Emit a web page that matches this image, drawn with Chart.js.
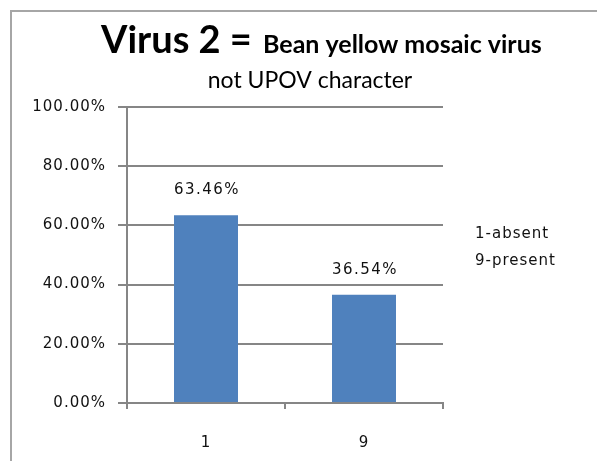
<!DOCTYPE html>
<html>
<head>
<meta charset="utf-8">
<script src="https://cdn.jsdelivr.net/npm/chart.js@4"></script>
<style>
    html, body { margin: 0; padding: 0; background: #fff; }
    #wrap { position: relative; width: 597px; height: 461px; overflow: hidden; }
    #frame { position: absolute; left: 10px; top: 10px; width: 600px; height: 470px; border: 2px solid #a6a6a6; box-sizing: border-box; }
    #chart { position: absolute; left: 0; top: 0; }
</style>
</head>
<body>
<div id="wrap">
    <div id="frame"></div>
    <canvas id="chart" width="597" height="461"></canvas>
</div>
<script>
// Dati del grafico
const categories = ['1', '9'];
const percentValues = [63.46, 36.54];
const yTicks = [0, 20, 40, 60, 80, 100];
const titleMain = 'Virus 2 = ';
const titleSub = 'Bean yellow mosaic virus';
const subtitleText = 'not UPOV character';
const legendLines = ['1-absent', '9-present'];

const tickFont = { family: 'DejaVu Sans', size: 15 };

// spaziatura delle lettere come nel grafico originale
const spacingPlugin = {
    id: 'spacing',
    beforeDraw(chart) {
        chart.ctx.letterSpacing = '1px';
    }
};

// Titolo con due dimensioni di carattere
const titlePlugin = {
    id: 'mixedTitle',
    afterDraw(chart) {
        const ctx = chart.ctx;
        ctx.save();
        ctx.letterSpacing = '0px';
        ctx.fillStyle = '#000';
        ctx.textBaseline = 'alphabetic';
        ctx.textAlign = 'left';
        ctx.font = 'bold 38px Lato';
        ctx.fillText(titleMain, 101, 53);
        ctx.font = 'bold 25px Lato';
        ctx.fillText(titleSub, 263, 53);
        ctx.font = '23px Lato';
        ctx.textAlign = 'center';
        ctx.fillText(subtitleText, 310, 88);
        // legenda testuale
        ctx.letterSpacing = '1px';
        ctx.font = '15px DejaVu Sans';
        ctx.textAlign = 'left';
        ctx.textBaseline = 'middle';
        ctx.fillStyle = '#111';
        legendLines.forEach((t, i) => ctx.fillText(t, 475, 234 + i * 27));
        ctx.restore();
    }
};

// Etichette dei valori sopra le barre
const valueLabelPlugin = {
    id: 'valueLabels',
    afterDatasetsDraw(chart) {
        const ctx = chart.ctx;
        const meta = chart.getDatasetMeta(0);
        ctx.save();
        ctx.letterSpacing = '1.5px';
        ctx.font = '15px DejaVu Sans';
        ctx.fillStyle = '#111';
        ctx.textAlign = 'center';
        ctx.textBaseline = 'middle';
        meta.data.forEach((bar, i) => {
            ctx.fillText(percentValues[i].toFixed(2) + '%', bar.x + 1, bar.y - 25);
        });
        ctx.restore();
    }
};

const chart = new Chart(document.getElementById('chart'), {
    type: 'bar',
    data: {
        labels: categories,
        datasets: [{
            data: percentValues,
            backgroundColor: '#4f81bd',
            borderWidth: 0,
            barPercentage: 0.405,
            categoryPercentage: 1
        }]
    },
    options: {
        responsive: false,
        animation: false,
        events: [],
        layout: { padding: { top: 107, right: 154, left: 0, bottom: 0 } },
        plugins: {
            legend: { display: false },
            title: { display: false },
            tooltip: { enabled: false }
        },
        scales: {
            x: {
                afterFit(scale) { scale.height = 58; },
                grid: {
                    offset: true,
                    drawOnChartArea: false,
                    drawTicks: true,
                    tickLength: 6,
                    color: '#868686',
                    lineWidth: 2
                },
                border: { color: '#868686', width: 2 },
                ticks: { font: tickFont, color: '#111', padding: 25 }
            },
            y: {
                min: 0,
                max: 100,
                afterFit(scale) { scale.width = 127; },
                afterBuildTicks(scale) { scale.ticks = yTicks.map(v => ({ value: v })); },
                grid: {
                    color: '#868686',
                    lineWidth: 2,
                    tickLength: 9
                },
                border: { color: '#868686', width: 2 },
                ticks: {
                    font: tickFont,
                    color: '#111',
                    padding: 12,
                    callback: v => v.toFixed(2) + '%'
                }
            }
        }
    },
    plugins: [spacingPlugin, titlePlugin, valueLabelPlugin]
});
</script>
</body>
</html>
